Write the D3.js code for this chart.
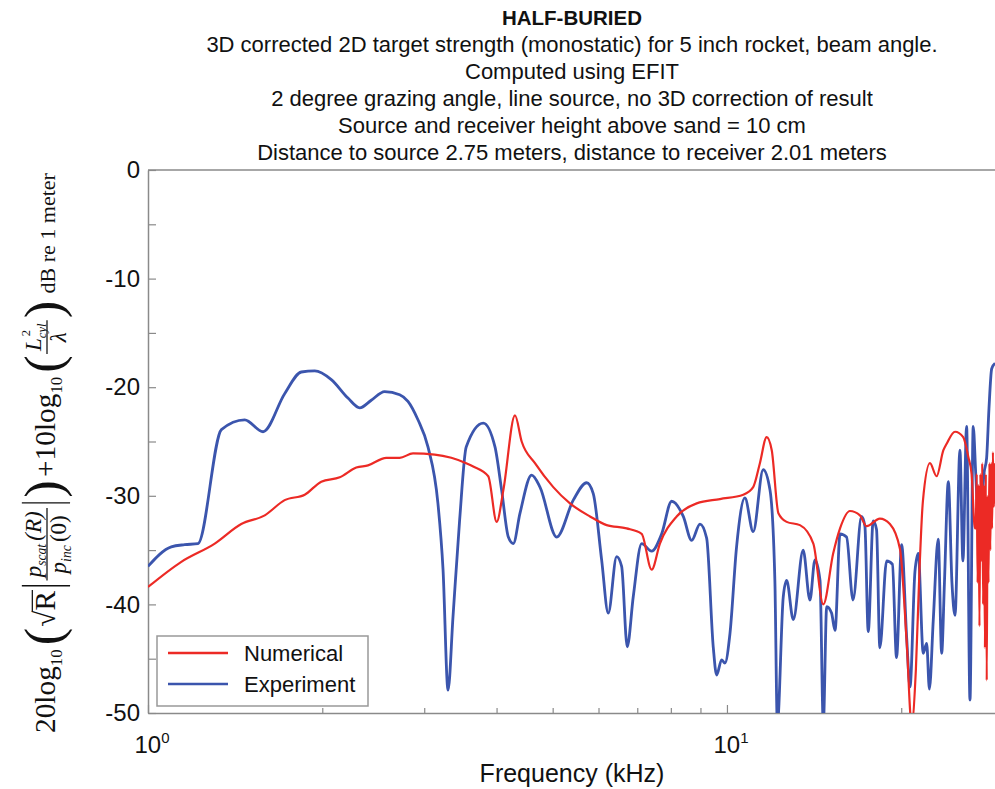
<!DOCTYPE html>
<html><head><meta charset="utf-8">
<script src="https://cdn.jsdelivr.net/npm/d3@7"></script>
<style>body{margin:0;background:#fff}svg{display:block}</style>
</head><body>
<svg id="chart" width="995" height="789"></svg>
<script>
const titleLines = [
  "HALF-BURIED",
  "3D corrected 2D target strength (monostatic) for 5 inch rocket, beam angle.",
  "Computed using EFIT",
  "2 degree grazing angle, line source, no 3D correction of result",
  "Source and receiver height above sand = 10 cm",
  "Distance to source 2.75 meters, distance to receiver 2.01 meters"
];
const xLabel = "Frequency (kHz)";
const legendLabels = ["Numerical", "Experiment"];
const yTickValues = [0, -10, -20, -30, -40, -50];
const yMinorTickValues = [-5, -15, -25, -35, -45];
const xMajorTickValues = [1, 10];
const xMajorTickExponents = ["0", "1"];
const xMinorTickValues = [2, 3, 4, 5, 6, 7, 8, 9, 20];

const numericalFreq = [1.000,1.140,1.304,1.449,1.591,1.722,1.865,1.992,2.144,2.290,2.399,2.580,2.721,2.869,3.128,3.341,3.545,3.645,3.870,4.002,4.109,4.304,4.420,4.660,5.012,5.356,5.800,6.197,6.710,7.123,7.412,7.660,8.187,8.866,9.725,10.67,11.10,11.40,11.71,11.95,12.27,12.68,13.37,14.10,14.67,15.26,15.68,16.31,16.97,17.43,18.37,19.12,19.90,20.44,20.84,21.20,21.50,21.80,22.42,23.02,23.65,23.96,24.77,25.59,26.11,26.46,26.81,
  26.9,27.0,27.1,27.2,27.3,27.4,27.5,27.6,27.7,27.8,27.9,28.0,28.1,28.2,28.3,28.4,28.5,28.6,28.7,28.8,28.9,29.04];
const numericalDb = [-38.4,-36.1,-34.4,-32.6,-31.8,-30.4,-29.9,-28.7,-28.3,-27.4,-27.2,-26.5,-26.5,-26.1,-26.2,-26.5,-27.0,-27.3,-28.2,-32.4,-29.5,-22.6,-25.0,-27.0,-29.2,-30.7,-31.9,-32.7,-33.0,-33.5,-36.8,-34.4,-31.9,-30.7,-30.3,-29.9,-29.2,-27.0,-24.6,-25.8,-31.6,-32.4,-32.7,-34.4,-40.0,-35.3,-33.0,-31.4,-31.8,-32.8,-32.1,-32.6,-34.9,-43.5,-51.0,-46.0,-37.0,-30.5,-27.0,-28.2,-25.8,-25.2,-24.1,-24.6,-26.4,-28.0,-33.0,
  -33,-28,-38,-29,-42,-28,-36,-27,-40,-29,-44,-28,-47,-30,-38,-27,-35,-27,-33,-26,-31,-27];

const experimentFreq = [1.000,1.097,1.157,1.220,1.339,1.469,1.580,1.722,1.840,1.941,2.073,2.215,2.321,2.430,2.563,2.721,2.812,2.926,3.045,3.168,3.233,3.298,3.364,3.454,3.545,3.794,3.975,4.082,4.192,4.275,4.391,4.599,4.754,5.081,5.427,5.724,5.876,6.075,6.237,6.449,6.578,6.726,6.889,7.123,7.412,7.714,8.027,8.406,8.690,8.983,9.224,9.469,9.598,9.790,9.920,10.12,10.39,10.74,11.10,11.55,11.87,12.10,12.22,12.51,12.68,13.02,13.54,13.91,14.19,14.48,14.67,14.87,15.16,15.37,15.68,16.09,16.51,17.08,17.31,17.54,17.89,18.13,18.37,18.87,19.31,19.63,20.03,20.44,20.71,21.12,21.40,21.83,22.13,22.37,22.72,23.17,23.49,23.75,24.12,24.47,24.77,25.26,25.56,25.94,26.29,26.63,26.90,27.18,27.54,27.79,28.09,28.35,28.66,29.04];
const experimentDb = [-36.5,-34.7,-34.5,-34.4,-23.9,-23.0,-24.1,-20.6,-18.6,-18.5,-19.3,-21.0,-21.9,-21.2,-20.4,-20.7,-21.3,-23.0,-25.5,-30.7,-36.8,-47.9,-41.1,-32.2,-25.5,-23.3,-25.5,-29.5,-33.8,-34.4,-31.6,-28.1,-29.2,-33.8,-30.4,-28.8,-29.8,-35.9,-40.8,-35.6,-36.5,-43.9,-39.3,-34.4,-35.1,-33.5,-30.5,-31.9,-34.1,-32.6,-33.9,-43.9,-46.5,-45.1,-45.4,-42.7,-34.7,-30.2,-33.3,-27.6,-29.5,-37.8,-51.0,-39.3,-37.8,-41.4,-35.0,-39.6,-35.9,-37.8,-51.0,-40.2,-40.8,-42.4,-33.5,-33.8,-39.6,-31.9,-32.8,-42.5,-32.3,-33.1,-44.0,-36.0,-36.3,-44.9,-34.5,-43.1,-47.6,-37.0,-35.3,-44.5,-43.6,-47.8,-41.4,-34.0,-44.5,-38.0,-28.7,-38.0,-41.0,-25.8,-36.0,-23.6,-48.8,-23.6,-28.0,-32.2,-31.0,-28.0,-26.5,-22.0,-18.3,-17.8];

const numerical = numericalFreq.map((f, i) => ({f, v: numericalDb[i]}));
const experiment = experimentFreq.map((f, i) => ({f, v: experimentDb[i]}));

const svg = d3.select("#chart");
const pLeft = 148, pRight = 995, pTop = 170, pBottom = 713;
const x = d3.scaleLog().domain([1, 29.04]).range([pLeft, pRight]);
const y = d3.scaleLinear().domain([-50, 0]).range([pBottom, pTop]);
const axisColor = "#8a8a8a";
const sans = "'Liberation Sans', Arial, Helvetica, sans-serif";
const serif = "'Liberation Serif', 'Times New Roman', serif";

svg.append("g").selectAll("text").data(titleLines).join("text")
  .attr("x", 572).attr("y", (d, i) => 25 + i * 27)
  .attr("text-anchor", "middle")
  .attr("font-family", sans).attr("font-size", (d, i) => i === 0 ? 20.5 : 22)
  .attr("font-weight", (d, i) => i === 0 ? "bold" : "normal")
  .attr("fill", "#111").text(d => d);

svg.append("clipPath").attr("id", "plotclip").append("rect")
  .attr("x", pLeft).attr("y", pTop).attr("width", pRight - pLeft).attr("height", pBottom - pTop);

svg.append("line").attr("x1", pLeft).attr("x2", pRight).attr("y1", pTop).attr("y2", pTop)
  .attr("stroke", axisColor).attr("stroke-width", 1.5);

const yAxis = svg.append("g").attr("transform", `translate(${pLeft},0)`)
  .call(d3.axisLeft(y).tickValues(yTickValues.concat(yMinorTickValues))
    .tickSizeInner(-8).tickSizeOuter(0).tickPadding(8)
    .tickFormat(d => yTickValues.includes(d) ? String(d) : ""));
yAxis.select(".domain").attr("stroke", axisColor).attr("stroke-width", 1.5);
yAxis.selectAll(".tick line").attr("stroke", axisColor).attr("stroke-width", 1.2);
yAxis.selectAll(".tick text").attr("font-family", sans).attr("font-size", 24).attr("fill", "#111");

const xAxis = svg.append("g").attr("transform", `translate(0,${pBottom})`)
  .call(d3.axisBottom(x).tickValues(xMajorTickValues).tickSizeInner(-8).tickSizeOuter(0).tickFormat(""));
xAxis.select(".domain").attr("stroke", axisColor).attr("stroke-width", 1.5);
xAxis.selectAll(".tick line").attr("stroke", axisColor).attr("stroke-width", 1.2);
const xMinor = svg.append("g").attr("transform", `translate(0,${pBottom})`)
  .call(d3.axisBottom(x).tickValues(xMinorTickValues).tickSizeInner(-5).tickSizeOuter(0).tickFormat(""));
xMinor.select(".domain").remove();
xMinor.selectAll(".tick line").attr("stroke", axisColor).attr("stroke-width", 1.2);

const xl = svg.append("g").selectAll("text").data(xMajorTickValues).join("text")
  .attr("x", d => x(d) + 4).attr("y", 753).attr("text-anchor", "middle")
  .attr("font-family", sans).attr("font-size", 24).attr("fill", "#111");
xl.append("tspan").text("10");
xl.append("tspan").attr("font-size", 15).attr("dy", -10).text((d, i) => xMajorTickExponents[i]);

svg.append("text").attr("x", 572).attr("y", 782).attr("text-anchor", "middle")
  .attr("font-family", sans).attr("font-size", 25).attr("fill", "#111").text(xLabel);

const line = d3.line().curve(d3.curveMonotoneX).x(d => x(d.f)).y(d => y(d.v));
const plot = svg.append("g").attr("clip-path", "url(#plotclip)");
plot.append("path").datum(experiment).attr("d", line).attr("fill", "none")
  .attr("stroke", "#3b55ad").attr("stroke-width", 2.8).attr("stroke-linejoin", "round");
plot.append("path").datum(numerical).attr("d", line).attr("fill", "none")
  .attr("stroke", "#ec2a25").attr("stroke-width", 2.2).attr("stroke-linejoin", "round");

const lg = svg.append("g");
lg.append("rect").attr("x", 157).attr("y", 636).attr("width", 211).attr("height", 70)
  .attr("fill", "#fff").attr("stroke", "#999").attr("stroke-width", 1.5);
const legendColors = ["#ec2a25", "#3b55ad"];
legendLabels.forEach((lab, i) => {
  const cy = 653 + i * 31;
  lg.append("line").attr("x1", 168).attr("x2", 228).attr("y1", cy).attr("y2", cy)
    .attr("stroke", legendColors[i]).attr("stroke-width", 2.5);
  lg.append("text").attr("x", 244).attr("y", cy + 8).attr("font-family", sans)
    .attr("font-size", 22).attr("fill", "#111").text(lab);
});

// Y axis label (math expression)
const yl = svg.append("g").attr("transform", "translate(47,453) rotate(-90)");
const inner = yl.append("g");
let cur = 0;
const base = 8;
function txt(g, str, size, dx, dy, italic) {
  const t = g.append("text").attr("x", dx).attr("y", dy).attr("font-family", serif)
    .attr("font-size", size).attr("fill", "#111").attr("font-style", italic ? "italic" : "normal").text(str);
  return t.node().getComputedTextLength();
}
function add(str, size, dy, italic, gap) {
  const w = txt(inner, str, size, cur, dy, italic);
  cur += w + (gap || 0);
  return w;
}
function bigParen(ch) {
  const w = txt(inner, ch, 50, cur, 13, false);
  cur += w + 1;
}
function bar() {
  cur += 3;
  inner.append("line").attr("x1", cur).attr("x2", cur).attr("y1", -24).attr("y2", 22)
    .attr("stroke", "#111").attr("stroke-width", 1.3);
  cur += 5;
}
function fraction(buildNum, buildDen) {
  const gn = inner.append("g"), gd = inner.append("g");
  const wn = buildNum(gn), wd = buildDen(gd);
  const w = Math.max(wn, wd) + 6;
  gn.attr("transform", `translate(${cur + (w - wn) / 2},-6)`);
  gd.attr("transform", `translate(${cur + (w - wd) / 2},18)`);
  inner.append("line").attr("x1", cur).attr("x2", cur + w).attr("y1", 0).attr("y2", 0)
    .attr("stroke", "#111").attr("stroke-width", 1.2);
  cur += w + 2;
}
function seq(g, parts) {
  let c = 0;
  parts.forEach(p => { c += txt(g, p[0], p[1], c, p[2], p[3]) + (p[4] || 0); });
  return c;
}
add("20log", 28, base, false);
add("10", 16, base + 6, false, 4);
bigParen("(");
add("\u221A", 28, base, false);
{
  const w = txt(inner, "R", 28, cur, base, false);
  inner.append("line").attr("x1", cur - 1).attr("x2", cur + w + 1).attr("y1", base - 22).attr("y2", base - 22)
    .attr("stroke", "#111").attr("stroke-width", 1.2);
  cur += w + 2;
}
bar();
fraction(
  g => seq(g, [["p", 22, 0, true], ["scat", 13, 5, true, 3], ["(R)", 22, 0, true]]),
  g => seq(g, [["p", 22, 0, true], ["inc", 13, 5, true, 3], ["(0)", 22, 0, false]])
);
bar();
bigParen(")");
cur += 2;
add("+10log", 28, base, false);
add("10", 16, base + 6, false, 4);
bigParen("(");
fraction(
  g => { const w = seq(g, [["L", 22, 0, true], ["cyl", 12, 5, true]]); txt(g, "2", 12, 14, -10, false); return w; },
  g => seq(g, [["\u03BB", 22, 0, true]])
);
bigParen(")");
cur += 6;
add("dB re 1 meter", 21, base, false);
const total = cur;
const targetLen = 560;
const s = targetLen / total;
inner.attr("transform", `scale(${s}) translate(${-total / 2},0)`);
</script>
</body></html>
